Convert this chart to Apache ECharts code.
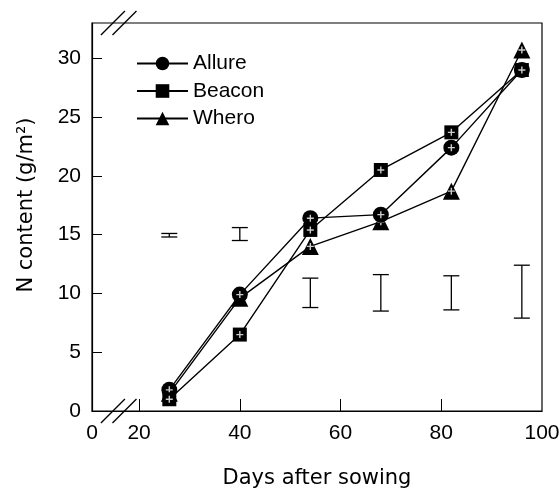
<!DOCTYPE html>
<html>
<head>
<meta charset="utf-8">
<script src="https://cdn.jsdelivr.net/npm/echarts@6.0.0/dist/echarts.min.js"></script>
<style>
  html, body { margin: 0; padding: 0; background: #fff; }
  #chart { width: 560px; height: 491px; }
</style>
</head>
<body>
<div id="chart"></div>
<script>
// sampling days and N content per cultivar
const days = [26, 40, 54, 68, 82, 96];
const allure = [1.8, 9.9, 16.4, 16.7, 22.4, 29.0];
const beacon = [1.0, 6.5, 15.4, 20.5, 23.7, 29.0];
const whero = [1.5, 9.6, 14.0, 16.1, 18.7, 30.7];

// LSD bars drawn at each sampling day
const barLow = [14.8, 14.5, 8.8, 8.5, 8.6, 7.9];
const barHigh = [15.1, 15.6, 11.3, 11.6, 11.5, 12.4];

const xTicks = [20, 40, 60, 80, 100];
const yTicks = [0, 5, 10, 15, 20, 25, 30];

const xMin = 10.65;
const FONT = '"Liberation Sans", Arial, sans-serif';
const TITLE_FONT = '"DejaVu Sans", sans-serif';

const chart = echarts.init(document.getElementById('chart'));

const pair = (xs, ys) => xs.map((x, i) => [x, ys[i]]);
const plusPath = 'path://M4,0H6V4H10V6H6V10H4V6H0V4H4Z';

const lineSeries = (name, symbol, size, values, z) => ({
  name,
  type: 'line',
  data: pair(days, values),
  symbol,
  symbolSize: size,
  showAllSymbol: true,
  lineStyle: { color: '#000', width: 1.4 },
  itemStyle: { color: '#000' },
  z
});

const plusSeries = (values, z) => ({
  type: 'scatter',
  data: pair(days, values),
  symbol: plusPath,
  symbolSize: 7,
  itemStyle: { color: '#fff' },
  silent: true,
  z
});

const option = {
  animation: false,
  textStyle: { fontFamily: FONT },
  grid: {
    left: 92, right: 18, top: 23, bottom: 80,
    outerBoundsMode: 'none',
    show: true, borderColor: '#000', borderWidth: 1.2
  },
  legend: {
    data: ['Allure', 'Beacon', 'Whero'],
    orient: 'vertical',
    left: 131, top: 48,
    itemWidth: 51, itemHeight: 17, itemGap: 6.5,
    textStyle: { fontSize: 21, color: '#000', fontFamily: FONT }
  },
  xAxis: {
    type: 'value',
    min: xMin, max: 100,
    name: 'Days after sowing',
    nameLocation: 'middle',
    nameGap: 57,
    nameTextStyle: { fontSize: 21, color: '#000', fontFamily: TITLE_FONT },
    axisLine: { lineStyle: { color: '#000', width: 1.2 } },
    axisTick: { inside: true, length: 12, customValues: [20, 40, 60, 80], lineStyle: { color: '#000' } },
    axisLabel: {
      customValues: [xMin].concat(xTicks),
      formatter: v => (v === xMin ? '0' : String(v)),
      fontSize: 21, color: '#000', margin: 12, fontFamily: FONT
    },
    splitLine: { show: false }
  },
  yAxis: {
    type: 'value',
    min: 0, max: 33,
    name: 'N content (g/m²)',
    nameLocation: 'middle',
    nameGap: 55,
    nameTextStyle: { fontSize: 21, color: '#000', fontFamily: TITLE_FONT, padding: [0, 0, 0, 24] },
    axisLine: { lineStyle: { color: '#000', width: 1.2 } },
    axisTick: { inside: true, length: 10, customValues: yTicks, lineStyle: { color: '#000' } },
    axisLabel: { customValues: yTicks, fontSize: 21, color: '#000', margin: 11, fontFamily: FONT },
    splitLine: { show: false }
  },
  series: [
    lineSeries('Whero', 'triangle', 17, whero, 3),
    plusSeries(whero, 4),
    lineSeries('Allure', 'circle', 16, allure, 5),
    plusSeries(allure, 6),
    lineSeries('Beacon', 'rect', 14, beacon, 7),
    plusSeries(beacon, 8),
    {
      type: 'custom',
      data: days.map((d, i) => [d, barLow[i], barHigh[i]]),
      renderItem: (params, api) => {
        const lo = api.coord([api.value(0), api.value(1)]);
        const hi = api.coord([api.value(0), api.value(2)]);
        const w = 8;
        const style = { stroke: '#000', lineWidth: 1.3 };
        return {
          type: 'group',
          children: [
            { type: 'line', shape: { x1: lo[0], y1: lo[1], x2: hi[0], y2: hi[1] }, style },
            { type: 'line', shape: { x1: lo[0] - w, y1: lo[1], x2: lo[0] + w, y2: lo[1] }, style },
            { type: 'line', shape: { x1: hi[0] - w, y1: hi[1], x2: hi[0] + w, y2: hi[1] }, style }
          ]
        };
      },
      z: 2
    }
  ]
};

chart.setOption(option);

// axis-break slashes on the top and bottom frame lines
const breakAt = [14.8, 17.1];
const slashes = [];
[0, 33].forEach(yv => {
  breakAt.forEach(xv => {
    const p = chart.convertToPixel({ gridIndex: 0 }, [xv, yv]);
    slashes.push({
      type: 'line',
      shape: { x1: p[0] - 12, y1: p[1] + 12, x2: p[0] + 12, y2: p[1] - 12 },
      style: { stroke: '#000', lineWidth: 1.3 },
      z: 10
    });
  });
});
chart.setOption({ graphic: slashes });
</script>
</body>
</html>
